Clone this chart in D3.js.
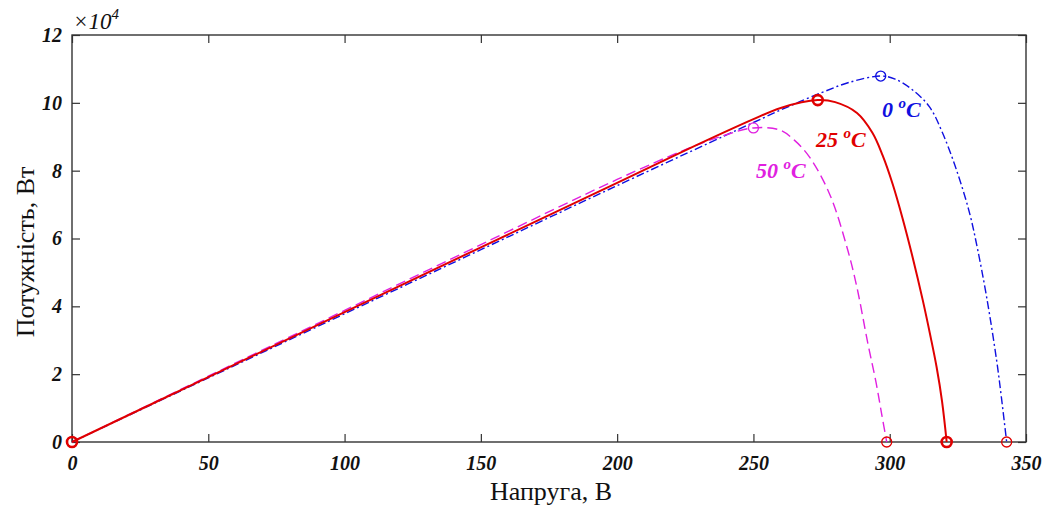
<!DOCTYPE html>
<html>
<head>
<meta charset="utf-8">
<script src="https://cdn.jsdelivr.net/npm/d3@7"></script>
<style>
  body { margin: 0; background: #fff; }
  svg { display: block; }
  .tick text { font-family: "Liberation Serif", "Times New Roman", serif; font-weight: bold; font-style: italic; }
</style>
</head>
<body>
<div id="chart"></div>
<script>
// voltage (V) and power (x10^4 W)
var v0 = [0, 50, 100, 150, 200, 250, 262, 275, 285, 296.7, 302, 308.4, 314.6, 319.4, 324.5, 329.3, 332.2, 335.5, 339.2, 341, 342.9];
var p0 = [0, 1.89, 3.78, 5.67, 7.56, 9.42, 9.86, 10.3, 10.6, 10.79, 10.7, 10.38, 9.88, 9.11, 8.02, 6.75, 5.7, 4.3, 2.42, 1.3, 0];

var v25 = [0, 50, 100, 150, 200, 225, 250, 260, 273.6, 280, 288, 293.7, 297.4, 301.1, 304.7, 308.4, 312.1, 315, 317.2, 319.2, 320.9];
var p25 = [0, 1.915, 3.83, 5.74, 7.64, 8.6, 9.52, 9.85, 10.08, 10.02, 9.7, 9.11, 8.45, 7.6, 6.6, 5.45, 4.19, 3.1, 2.21, 1.2, 0];

var v50 = [0, 50, 100, 150, 200, 225, 240, 250, 259.6, 265, 270.6, 278, 284.6, 288, 292, 295, 297.1, 298.9];
var p50 = [0, 1.94, 3.88, 5.82, 7.74, 8.62, 9.06, 9.26, 9.2, 8.9, 8.4, 7.3, 5.66, 4.55, 2.9, 1.75, 0.8, 0];

// maximum power points and open-circuit points
var mppV = [296.7, 273.6, 250];
var mppP = [10.79, 10.08, 9.26];
var vocV = [342.9, 320.9, 298.9];

var xTicks = [0, 50, 100, 150, 200, 250, 300, 350];
var yTicks = [0, 2, 4, 6, 8, 10, 12];

var width = 1048, height = 506;
var margin = {top: 35, right: 22, bottom: 64, left: 72};

var svg = d3.select("#chart").append("svg")
    .attr("width", width)
    .attr("height", height);

var x = d3.scaleLinear().domain([0, 350]).range([margin.left, width - margin.right]);
var y = d3.scaleLinear().domain([0, 12]).range([height - margin.bottom, margin.top]);

var axisColor = "#333";

// axes with inward ticks on all four sides
var gx = svg.append("g").attr("transform", "translate(0," + y(0) + ")")
    .call(d3.axisBottom(x).tickValues(xTicks).tickSizeInner(-8).tickSizeOuter(0).tickPadding(14));
var gxt = svg.append("g").attr("transform", "translate(0," + y(12) + ")")
    .call(d3.axisTop(x).tickValues(xTicks).tickSizeInner(-8).tickSizeOuter(0).tickFormat(""));
var gy = svg.append("g").attr("transform", "translate(" + x(0) + ",0)")
    .call(d3.axisLeft(y).tickValues(yTicks).tickSizeInner(-8).tickSizeOuter(0).tickPadding(10));
var gyr = svg.append("g").attr("transform", "translate(" + x(350) + ",0)")
    .call(d3.axisRight(y).tickValues(yTicks).tickSizeInner(-8).tickSizeOuter(0).tickFormat(""));

[gx, gxt, gy, gyr].forEach(function(g) {
  g.select(".domain").remove();
  g.selectAll(".tick line").attr("stroke", axisColor).attr("stroke-width", 1.2);
  g.selectAll(".tick text").attr("fill", "#111").style("font-size", "20px");
});
gx.selectAll(".tick text").attr("dy", "0.71em");

svg.append("rect")
    .attr("x", x(0)).attr("y", y(12))
    .attr("width", x(350) - x(0)).attr("height", y(0) - y(12))
    .attr("fill", "none").attr("stroke", axisColor).attr("stroke-width", 1.4);

// curves
var line = d3.line()
    .x(function(d) { return x(d[0]); })
    .y(function(d) { return y(d[1]); })
    .curve(d3.curveCatmullRom.alpha(0.5));

function pts(vs, ps) { return vs.map(function(v, i) { return [v, ps[i]]; }); }

svg.append("path").datum(pts(v0, p0))
    .attr("d", line).attr("fill", "none")
    .attr("stroke", "#1010e0").attr("stroke-width", 1.4)
    .attr("stroke-dasharray", "8,3,2,3");

svg.append("path").datum(pts(v50, p50))
    .attr("d", line).attr("fill", "none")
    .attr("stroke", "#e020e0").attr("stroke-width", 1.4)
    .attr("stroke-dasharray", "10,5");

svg.append("path").datum(pts(v25, p25))
    .attr("d", line).attr("fill", "none")
    .attr("stroke", "#e00000").attr("stroke-width", 2);

// markers
var mppColors = ["#1010e0", "#e00000", "#e020e0"];
var thick = [false, true, false];

svg.selectAll(".mpp").data(mppV).enter().append("circle")
    .attr("class", "mpp")
    .attr("cx", function(d) { return x(d); })
    .attr("cy", function(d, i) { return y(mppP[i]); })
    .attr("r", 5)
    .attr("fill", "none")
    .attr("stroke", function(d, i) { return mppColors[i]; })
    .attr("stroke-width", function(d, i) { return thick[i] ? 2.6 : 1.3; });

svg.selectAll(".voc").data(vocV).enter().append("circle")
    .attr("class", "voc")
    .attr("cx", function(d) { return x(d); })
    .attr("cy", y(0))
    .attr("r", 5)
    .attr("fill", "none")
    .attr("stroke", "#e00000")
    .attr("stroke-width", function(d, i) { return thick[i] ? 2.6 : 1.3; });

svg.append("circle")
    .attr("cx", x(0)).attr("cy", y(0)).attr("r", 5)
    .attr("fill", "none").attr("stroke", "#e00000").attr("stroke-width", 2.6);

// curve labels
var labels = [
  {t: "0", c: "#1010e0", x: 882, y: 117},
  {t: "25", c: "#e00000", x: 816, y: 147},
  {t: "50", c: "#e020e0", x: 756, y: 178}
];
labels.forEach(function(l) {
  var tx = svg.append("text")
      .attr("x", l.x).attr("y", l.y)
      .attr("fill", l.c)
      .style("font-family", "'Liberation Serif', 'Times New Roman', serif")
      .style("font-weight", "bold").style("font-style", "italic")
      .style("font-size", "22px");
  tx.append("tspan").text(l.t + " ");
  tx.append("tspan").attr("dy", -9).style("font-size", "15px").text("o");
  tx.append("tspan").attr("dy", 9).text("C");
});

// exponent label
var ex = svg.append("text")
    .attr("x", 73).attr("y", 29)
    .attr("fill", "#111")
    .style("font-family", "'Liberation Serif', 'Times New Roman', serif")
    .style("font-style", "italic")
    .style("font-size", "23px");
ex.append("tspan").text("\u00d710");
ex.append("tspan").attr("dy", -10).style("font-size", "15px").text("4");

// axis titles
svg.append("text")
    .attr("x", (x(0) + x(350)) / 2 + 2).attr("y", 500)
    .attr("text-anchor", "middle")
    .attr("fill", "#111")
    .style("font-family", "'Liberation Serif', 'Times New Roman', serif")
    .style("font-size", "26px")
    .text("Напруга, В");

svg.append("text")
    .attr("transform", "translate(34,252) rotate(-90)")
    .attr("text-anchor", "middle")
    .attr("fill", "#111")
    .style("font-family", "'Liberation Serif', 'Times New Roman', serif")
    .style("font-size", "26px")
    .text("Потужність, Вт");
</script>
</body>
</html>
